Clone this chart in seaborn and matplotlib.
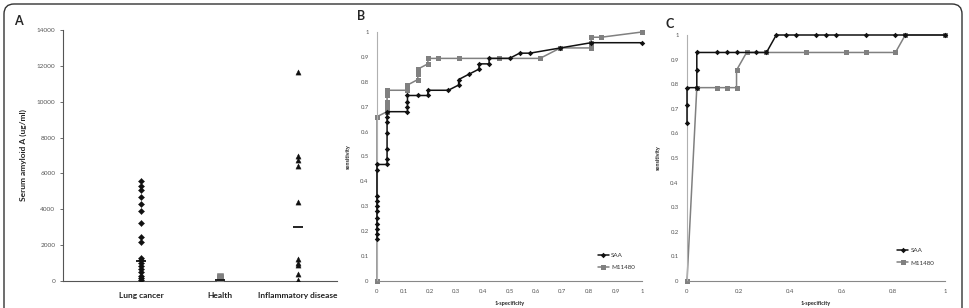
import pandas as pd
import matplotlib.pyplot as plt
import matplotlib.transforms as mtransforms
from matplotlib.patches import FancyBboxPatch
from matplotlib.ticker import FuncFormatter
import seaborn as sns

# Panel A: serum amyloid A per group
groups = ['Lung cancer', 'Health', 'Inflammatory disease']
lung_cancer = [5600, 5300, 5100, 4700, 4300, 3900, 3250, 2450, 2150,
               1300, 1150, 1000, 850, 650, 500, 300, 150, 50]
health = [300, 220, 150, 80, 30, 0]
inflammatory = [11650, 6950, 6750, 6400, 4400, 1200, 1000, 900, 400, 50]
group_means = [1100, 60, 3000]

# Panel B: ROC curves
b_saa_fpr = [0, 0, 0, 0, 0, 0, 0, 0, 0, 0, 0,
             0.038, 0.038, 0.038, 0.038, 0.038, 0.038, 0.038,
             0.115, 0.115, 0.115, 0.115, 0.154, 0.192, 0.192, 0.269,
             0.308, 0.308, 0.346, 0.385, 0.385, 0.423, 0.423, 0.5,
             0.538, 0.577, 0.692, 0.808, 1.0]
b_saa_tpr = [0.17, 0.19, 0.21, 0.23, 0.255, 0.28, 0.30, 0.32, 0.34, 0.447, 0.468,
             0.468, 0.49, 0.532, 0.596, 0.638, 0.66, 0.68,
             0.68, 0.70, 0.72, 0.745, 0.745, 0.745, 0.766, 0.766,
             0.787, 0.809, 0.83, 0.851, 0.872, 0.872, 0.894, 0.894,
             0.915, 0.915, 0.936, 0.957, 0.957]
b_m_fpr = [0, 0, 0.038, 0.038, 0.038, 0.038, 0.038, 0.115, 0.115, 0.154,
           0.154, 0.154, 0.192, 0.192, 0.231, 0.308, 0.462, 0.615, 0.692,
           0.808, 0.808, 0.808, 0.846, 1.0]
b_m_tpr = [0, 0.66, 0.68, 0.70, 0.72, 0.745, 0.766, 0.766, 0.787, 0.809,
           0.83, 0.851, 0.872, 0.894, 0.894, 0.894, 0.894, 0.894, 0.936,
           0.936, 0.957, 0.979, 0.979, 1.0]

# Panel C: ROC curves
c_saa_fpr = [0, 0, 0, 0.038, 0.038, 0.038, 0.115, 0.154, 0.192, 0.269, 0.308,
             0.346, 0.385, 0.423, 0.5, 0.538, 0.577, 0.692, 0.808, 0.846, 1.0]
c_saa_tpr = [0.643, 0.714, 0.786, 0.786, 0.857, 0.929, 0.929, 0.929, 0.929, 0.929, 0.929,
             1, 1, 1, 1, 1, 1, 1, 1, 1, 1]
c_m_fpr = [0, 0.038, 0.115, 0.154, 0.192, 0.192, 0.231, 0.308, 0.462, 0.615,
           0.692, 0.808, 0.846, 1.0]
c_m_tpr = [0, 0.786, 0.786, 0.786, 0.786, 0.857, 0.929, 0.929, 0.929, 0.929,
           0.929, 0.929, 1, 1]

sns.set_style('white')
plt.rcParams['font.family'] = ['Lato', 'DejaVu Sans']

BLACK = '#111111'
GREY = '#808080'
TICK = '#555555'

fig = plt.figure(figsize=(9.69, 3.08), dpi=100)

# outer rounded frame
frame = FancyBboxPatch((4, -20), 958, 324, boxstyle='round,pad=0,rounding_size=10',
                       transform=mtransforms.IdentityTransform(),
                       facecolor='none', edgecolor='#333333', linewidth=1.0)
fig.patches.append(frame)

# ---------------- Panel A ----------------
axA = fig.add_axes([63 / 969, 27 / 308, 274 / 969, 251 / 308])
sns.scatterplot(x=[1] * len(lung_cancer), y=lung_cancer, marker='D', s=10,
                color=BLACK, edgecolor=BLACK, ax=axA, zorder=3)
sns.scatterplot(x=[2] * len(health), y=health, marker='s', s=22,
                color=GREY, edgecolor=GREY, ax=axA, zorder=3)
sns.scatterplot(x=[3] * len(inflammatory), y=inflammatory, marker='^', s=14,
                color=BLACK, edgecolor=BLACK, ax=axA, zorder=3)
sns.scatterplot(x=[1, 2, 3], y=group_means, marker='_', s=60, linewidth=1.3,
                color=BLACK, ax=axA, zorder=4)
axA.set_xlim(0, 3.5)
axA.set_ylim(0, 14000)
axA.set_yticks(range(0, 14001, 2000))
axA.set_xticks([1, 2, 3])
axA.set_xticklabels(groups, fontsize=6, fontweight='bold', color='#222222')
axA.tick_params(axis='y', labelsize=4.6, colors=TICK, length=2, width=0.6, left=True)
axA.tick_params(axis='x', length=0, pad=8)
axA.set_ylabel('Serum amyloid A (ug/ml)', fontsize=6, fontweight='bold', labelpad=7)
sns.despine(ax=axA)
for s in ['left', 'bottom']:
    axA.spines[s].set_color('#555555')
    axA.spines[s].set_linewidth(0.8)


def roc_panel(rect, saa_fpr, saa_tpr, m_fpr, m_tpr, xstep, legend_anchor):
    ax = fig.add_axes(rect)
    sns.lineplot(x=saa_fpr, y=saa_tpr, sort=False, estimator=None, color=BLACK,
                 linewidth=1.1, marker='D', markersize=2.8, markeredgewidth=0,
                 label='SAA', ax=ax, zorder=3)
    sns.lineplot(x=m_fpr, y=m_tpr, sort=False, estimator=None, color=GREY,
                 linewidth=1.1, marker='s', markersize=3.6, markeredgewidth=0,
                 label='M11480', ax=ax, zorder=2)
    ax.set_xlim(0, 1)
    ax.set_ylim(0, 1)
    ax.set_xticks([i * xstep for i in range(int(round(1 / xstep)) + 1)])
    ax.set_yticks([i / 10 for i in range(11)])
    fmt = FuncFormatter(lambda v, p: '%g' % round(v, 2))
    ax.xaxis.set_major_formatter(fmt)
    ax.yaxis.set_major_formatter(fmt)
    ax.tick_params(labelsize=4.3, colors=TICK, length=0, pad=6)
    ax.set_xlabel('1-specificity', fontsize=4, fontweight='bold', labelpad=5)
    ax.set_ylabel('sensitivity', fontsize=4, fontweight='bold', labelpad=7)
    ax.spines['left'].set_color('#b0b0b0')
    ax.spines['bottom'].set_color('#888888')
    for s in ['left', 'bottom']:
        ax.spines[s].set_linewidth(0.8)
    sns.despine(ax=ax)
    for ln in ax.lines:
        ln.set_clip_on(False)
    ax.legend(loc='lower right', bbox_to_anchor=legend_anchor, frameon=False,
              fontsize=4.5, handlelength=1.8, handletextpad=0.35, labelspacing=1.1,
              labelcolor='#333333')
    return ax


axB = roc_panel([377 / 969, 27 / 308, 265 / 969, 249 / 308],
                b_saa_fpr, b_saa_tpr, b_m_fpr, b_m_tpr, 0.1, (0.995, 0.02))
axC = roc_panel([687 / 969, 27 / 308, 258 / 969, 246 / 308],
                c_saa_fpr, c_saa_tpr, c_m_fpr, c_m_tpr, 0.2, (0.98, 0.04))

# panel letters
fig.text(14 / 969, 1 - 21 / 308, 'A', fontsize=9, fontweight='bold', va='center')
fig.text(357 / 969, 1 - 16 / 308, 'B', fontsize=9, fontweight='bold', va='center')
fig.text(665 / 969, 1 - 24 / 308, 'C', fontsize=9, fontweight='bold', va='center')

fig.savefig('out.png', dpi=100)
